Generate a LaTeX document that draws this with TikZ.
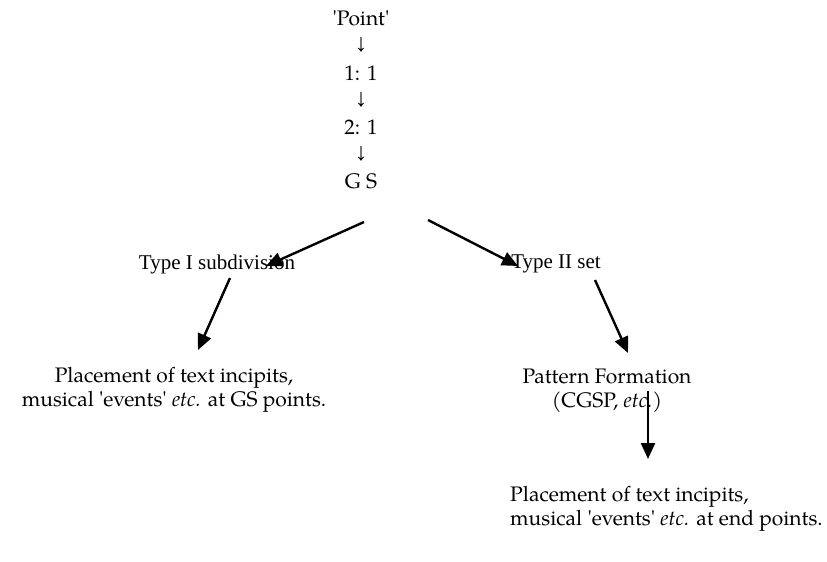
\documentclass[tikz,border=0pt]{standalone}
\usepackage{fontspec}
\setmainfont{TeX Gyre Pagella}
\newfontfamily\timesf{Liberation Serif}
\usetikzlibrary{arrows.meta}
\newcommand{\sq}{\textquotesingle}
\tikzset{
  txt/.style={inner sep=0pt, font=\fontsize{21}{23.5}\selectfont, align=center},
  tlab/.style={inner sep=0pt, font=\timesf\fontsize{21}{23}\selectfont},
  dn/.style={inner sep=0pt, font=\timesf\fontsize{25}{27}\selectfont},
  conn/.style={line width=2.4pt, -{Triangle[length=16pt,width=14pt]}}
}
\begin{document}
\begin{tikzpicture}[x=1pt,y=-1pt]
\useasboundingbox (0,0) rectangle (827,562);
\node[txt] (point) at (361,18) {\sq Point\sq};
\node[dn] (d1) at (361,45) {↓};
\node[txt] (r11) at (361,73) {1: 1};
\node[dn] (d2) at (361,100) {↓};
\node[txt] (r21) at (361,127) {2: 1};
\node[dn] (d3) at (361,154) {↓};
\node[txt] (gs) at (361,181) {G S};
\node[tlab] (t1) at (217,264) {Type I subdivision};
\node[tlab] (t2) at (556,264) {Type II set};
\node[txt] (pl) at (174,390) {Placement of text incipits,\\musical \sq events\sq\ \textit{etc.} at GS points.};
\node[txt] (pf) at (607,391) {Pattern Formation\\(CGSP, \textit{etc.})};
\node[txt, align=left, anchor=west] (pr) at (510,509) {Placement of text incipits,\\musical \sq events\sq\ \textit{etc.} at end points.};
\coordinate (a1s) at (364,222); \coordinate (a1e) at (266,266);
\coordinate (a2s) at (230,278); \coordinate (a2e) at (198,350);
\coordinate (a3s) at (428,220); \coordinate (a3e) at (518,266);
\coordinate (a4s) at (595,280); \coordinate (a4e) at (628,353);
\coordinate (a5s) at (648,391); \coordinate (a5e) at (648,459);
\draw[conn] (a1s) -- (a1e);
\draw[conn] (a2s) -- (a2e);
\draw[conn] (a3s) -- (a3e);
\draw[conn] (a4s) -- (a4e);
\draw[conn] (a5s) -- (a5e);
\end{tikzpicture}
\end{document}
